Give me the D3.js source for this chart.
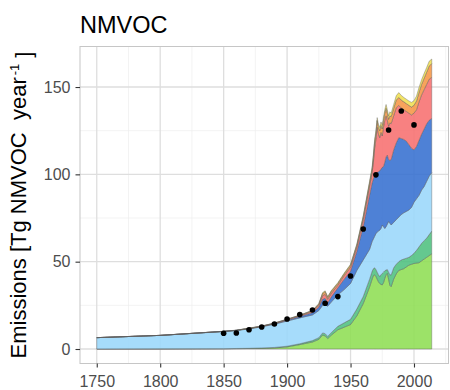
<!DOCTYPE html>
<html>
<head>
<meta charset="utf-8">
<script src="https://cdn.jsdelivr.net/npm/d3@7"></script>
<style>
  body { margin: 0; background: #fff; }
  text { font-family: "Liberation Sans", Arial, sans-serif; }
</style>
</head>
<body>
<svg id="chart" width="450" height="390"></svg>
<script>
// Annual NMVOC emissions by source sector, Tg per year (stacked bottom to top)
const years = [1750,1800,1850,1860,1870,1880,1890,1900,1910,1920,
  1925,1928,1930,1932,1935,1940,1945,1950,1955,1960,
  1965,1967,1968,1969,1970,1971,1972,1973,1974,1975,
  1976,1977,1978,1979,1980,1981,1982,1984,1986,1988,
  1990,1992,1994,1996,1998,2000,2002,2004,2006,2008,
  2010,2012,2014];

const sectorNames = ["Energy", "Industry", "Residential", "Transport", "Solvents", "Waste", "Shipping"];

const energy = [0,0,0.1,0.2,0.3,0.4,0.6,1.2,2.5,4.0,
  5.5,8.0,7.5,6.0,8.0,11.0,12.5,14.0,19.0,26.0,
  35.5,40.0,42.0,42.5,41.5,40.0,38.5,37.5,37.0,36.7,
  38.0,40.5,42.5,43.3,40.0,36.5,35.7,40.0,43.0,45.0,
  45.5,46.0,47.0,48.0,48.5,49.0,49.2,49.4,50.5,51.5,
  52.5,53.5,54.5];

const industry = [0.05,0.1,0.1,0.1,0.1,0.2,0.3,0.4,0.5,0.8,
  1.0,1.2,1.3,1.2,1.5,2.0,2.5,3.0,4.0,4.0,
  4.5,4.5,4.0,4.0,4.0,4.0,4.0,4.0,5.5,6.6,
  6.0,4.3,2.7,2.2,4.0,6.0,6.7,6.5,5.5,5.0,
  5.5,5.5,5.0,4.5,5.0,5.8,7.3,9.1,10.0,10.5,
  11.0,12.0,13.0];

const residential = [6.45,7.7,9.8,10.3,11.1,12.1,13.3,14.4,14.8,14.7,
  15.5,15.8,16.7,17.3,17.5,18.0,19.0,20.5,22.0,21.0,
  17.0,17.0,17.0,18.0,20.5,23.0,25.0,26.5,26.5,27.7,
  26.0,24.2,24.8,26.0,29.0,29.5,28.6,26.0,25.5,25.5,
  26.0,26.5,26.8,27.1,27.5,29.2,29.5,29.5,30.5,31.0,
  32.5,33.5,33.5];

const transport = [0,0,0.1,0.1,0.2,0.2,0.3,0.5,0.8,1.3,
  2.0,3.5,3.5,2.0,3.0,4.0,6.0,7.0,11.0,19.0,
  31.0,33.5,34.5,35.0,34.5,34.0,34.0,34.0,34.0,33.0,
  34.5,38.0,40.0,39.5,35.5,36.0,37.5,41.5,44.0,45.5,
  43.5,42.0,40.2,37.4,34.0,30.0,30.0,31.5,32.0,33.0,
  33.0,32.0,31.0];

const solvents = [0,0,0,0,0.1,0.1,0.2,0.3,0.4,0.7,
  1.0,2.0,2.3,2.0,2.0,1.5,2.0,2.3,2.5,4.0,
  5.0,6.0,9.5,15.5,19.5,26.0,21.5,19.0,21.0,18.0,
  22.5,24.0,23.5,20.0,19.0,21.5,20.5,19.5,20.0,18.5,
  17.5,17.0,17.0,18.0,19.0,21.0,21.0,22.0,22.5,22.5,
  22.5,23.5,23.5];

const waste = [0,0,0,0,0.1,0.1,0.1,0.2,0.3,0.5,
  0.7,1.3,1.5,1.1,1.2,1.0,1.0,1.2,1.1,1.5,
  2.0,2.0,3.0,3.5,3.5,3.8,3.8,4.0,4.0,4.0,
  4.0,4.0,4.3,4.0,4.0,4.0,4.0,4.3,4.5,4.5,
  4.5,4.5,4.5,4.5,4.5,4.5,5.0,5.5,6.0,6.5,
  7.0,7.5,8.0];

const shipping = [0,0,0.1,0.1,0.1,0.1,0.1,0.1,0.1,0.2,
  0.3,0.5,0.5,0.4,0.4,0.5,0.5,0.5,0.6,0.8,
  1.0,1.2,1.5,1.5,1.5,1.7,1.7,1.8,2.0,2.0,
  2.0,2.0,2.2,2.0,2.0,2.3,2.0,2.2,2.5,2.8,
  2.7,2.5,2.5,2.5,2.7,2.7,2.8,2.8,2.7,2.8,
  2.7,2.8,2.5];

// Decadal totals from an independent inventory
const inventoryYears = [1850,1860,1870,1880,1890,1900,1910,1920,1930,1940,1950,1960,1970,1980,1990,2000];
const inventoryTotals = [9.0,9.2,11.0,12.6,14.3,17.2,19.7,22.3,26.2,30.0,41.8,68.7,99.7,125.4,136.3,128.3];

const xTicks = [1750,1800,1850,1900,1950,2000];
const xMinor = [1775,1825,1875,1925,1975,2025];
const yTicks = [0,50,100,150];
const yMinor = [25,75,125];

const fills = ["#8ede53","#4fc07f","#9ad7fa","#356fd0","#f76f6f","#f69646","#f0df51"];

// ---- layout ----
const svg = d3.select("#chart");
const panel = { left: 80, right: 448.5, top: 46.5, bottom: 363.5 };

const x = d3.scaleLinear().domain([1736.8, 2027.2]).range([panel.left, panel.right]);
const y = d3.scaleLinear().domain([-8.3, 173.2]).range([panel.bottom, panel.top]);

svg.append("rect").attr("width", 450).attr("height", 390).attr("fill", "#fff");

// grid
const grid = svg.append("g");
grid.selectAll(".vmin").data(xMinor).join("line")
  .attr("x1", d => x(d)).attr("x2", d => x(d))
  .attr("y1", panel.top).attr("y2", panel.bottom)
  .attr("stroke", "#eeeeee").attr("stroke-width", 0.7);
grid.selectAll(".hmin").data(yMinor).join("line")
  .attr("y1", d => y(d)).attr("y2", d => y(d))
  .attr("x1", panel.left).attr("x2", panel.right)
  .attr("stroke", "#eeeeee").attr("stroke-width", 0.7);
grid.selectAll(".vmaj").data(xTicks).join("line")
  .attr("x1", d => x(d)).attr("x2", d => x(d))
  .attr("y1", panel.top).attr("y2", panel.bottom)
  .attr("stroke", "#dedede").attr("stroke-width", 1.3);
grid.selectAll(".hmaj").data(yTicks).join("line")
  .attr("y1", d => y(d)).attr("y2", d => y(d))
  .attr("x1", panel.left).attr("x2", panel.right)
  .attr("stroke", "#dedede").attr("stroke-width", 1.3);

// stacked areas
const seriesList = [energy, industry, residential, transport, solvents, waste, shipping];
const table = years.map((yr, i) => {
  const row = { year: yr };
  sectorNames.forEach((k, j) => { row[k] = seriesList[j][i]; });
  return row;
});
const stacked = d3.stack().keys(sectorNames)(table);
const area = d3.area()
  .x(d => x(d.data.year))
  .y0(d => y(d[0]))
  .y1(d => y(d[1]));

svg.append("g").selectAll("path").data(stacked).join("path")
  .attr("d", area)
  .attr("fill", (d, i) => fills[i])
  .attr("fill-opacity", 0.88)
  .attr("stroke", "#5e5e5e")
  .attr("stroke-width", 0.4);

// inventory points
svg.append("g").selectAll("circle").data(inventoryYears).join("circle")
  .attr("cx", d => x(d))
  .attr("cy", (d, i) => y(inventoryTotals[i]))
  .attr("r", 2.8)
  .attr("fill", "#000");

// panel border
svg.append("rect")
  .attr("x", panel.left).attr("y", panel.top)
  .attr("width", panel.right - panel.left).attr("height", panel.bottom - panel.top)
  .attr("fill", "none").attr("stroke", "#c6c6c6").attr("stroke-width", 1);

// axes
const xAxis = d3.axisBottom(x).tickValues(xTicks).tickFormat(d3.format("d")).tickSize(4).tickPadding(4);
const yAxis = d3.axisLeft(y).tickValues(yTicks).tickSize(4.5).tickPadding(5);

const gx = svg.append("g").attr("transform", `translate(0,${panel.bottom})`).call(xAxis);
const gy = svg.append("g").attr("transform", `translate(${panel.left},0)`).call(yAxis);
[gx, gy].forEach(g => {
  g.select(".domain").remove();
  g.selectAll(".tick line").attr("stroke", "#333").attr("stroke-width", 1.1);
  g.selectAll(".tick text")
    .attr("fill", "#4d4d4d")
    .style("font-size", "16px")
    .style("font-family", "'Liberation Sans', Arial, sans-serif");
});
gx.selectAll(".tick text").attr("dy", "0.95em");

// title
svg.append("text")
  .attr("x", 80).attr("y", 33.3)
  .attr("fill", "#000")
  .style("font-size", "23.5px")
  .text("NMVOC");

// y-axis title
const yt = svg.append("text")
  .attr("transform", `translate(26,${(panel.top + panel.bottom) / 2}) rotate(-90)`)
  .attr("text-anchor", "middle")
  .attr("fill", "#000")
  .style("font-size", "22px")
  .style("white-space", "pre");
yt.append("tspan").text("Emissions [Tg NMVOC  year");
yt.append("tspan").attr("dy", "-0.55em").attr("dx", "0.15em").style("font-size", "13px").text("-1");
yt.append("tspan").attr("dy", "0.55em").text(" ]");
</script>
</body>
</html>
